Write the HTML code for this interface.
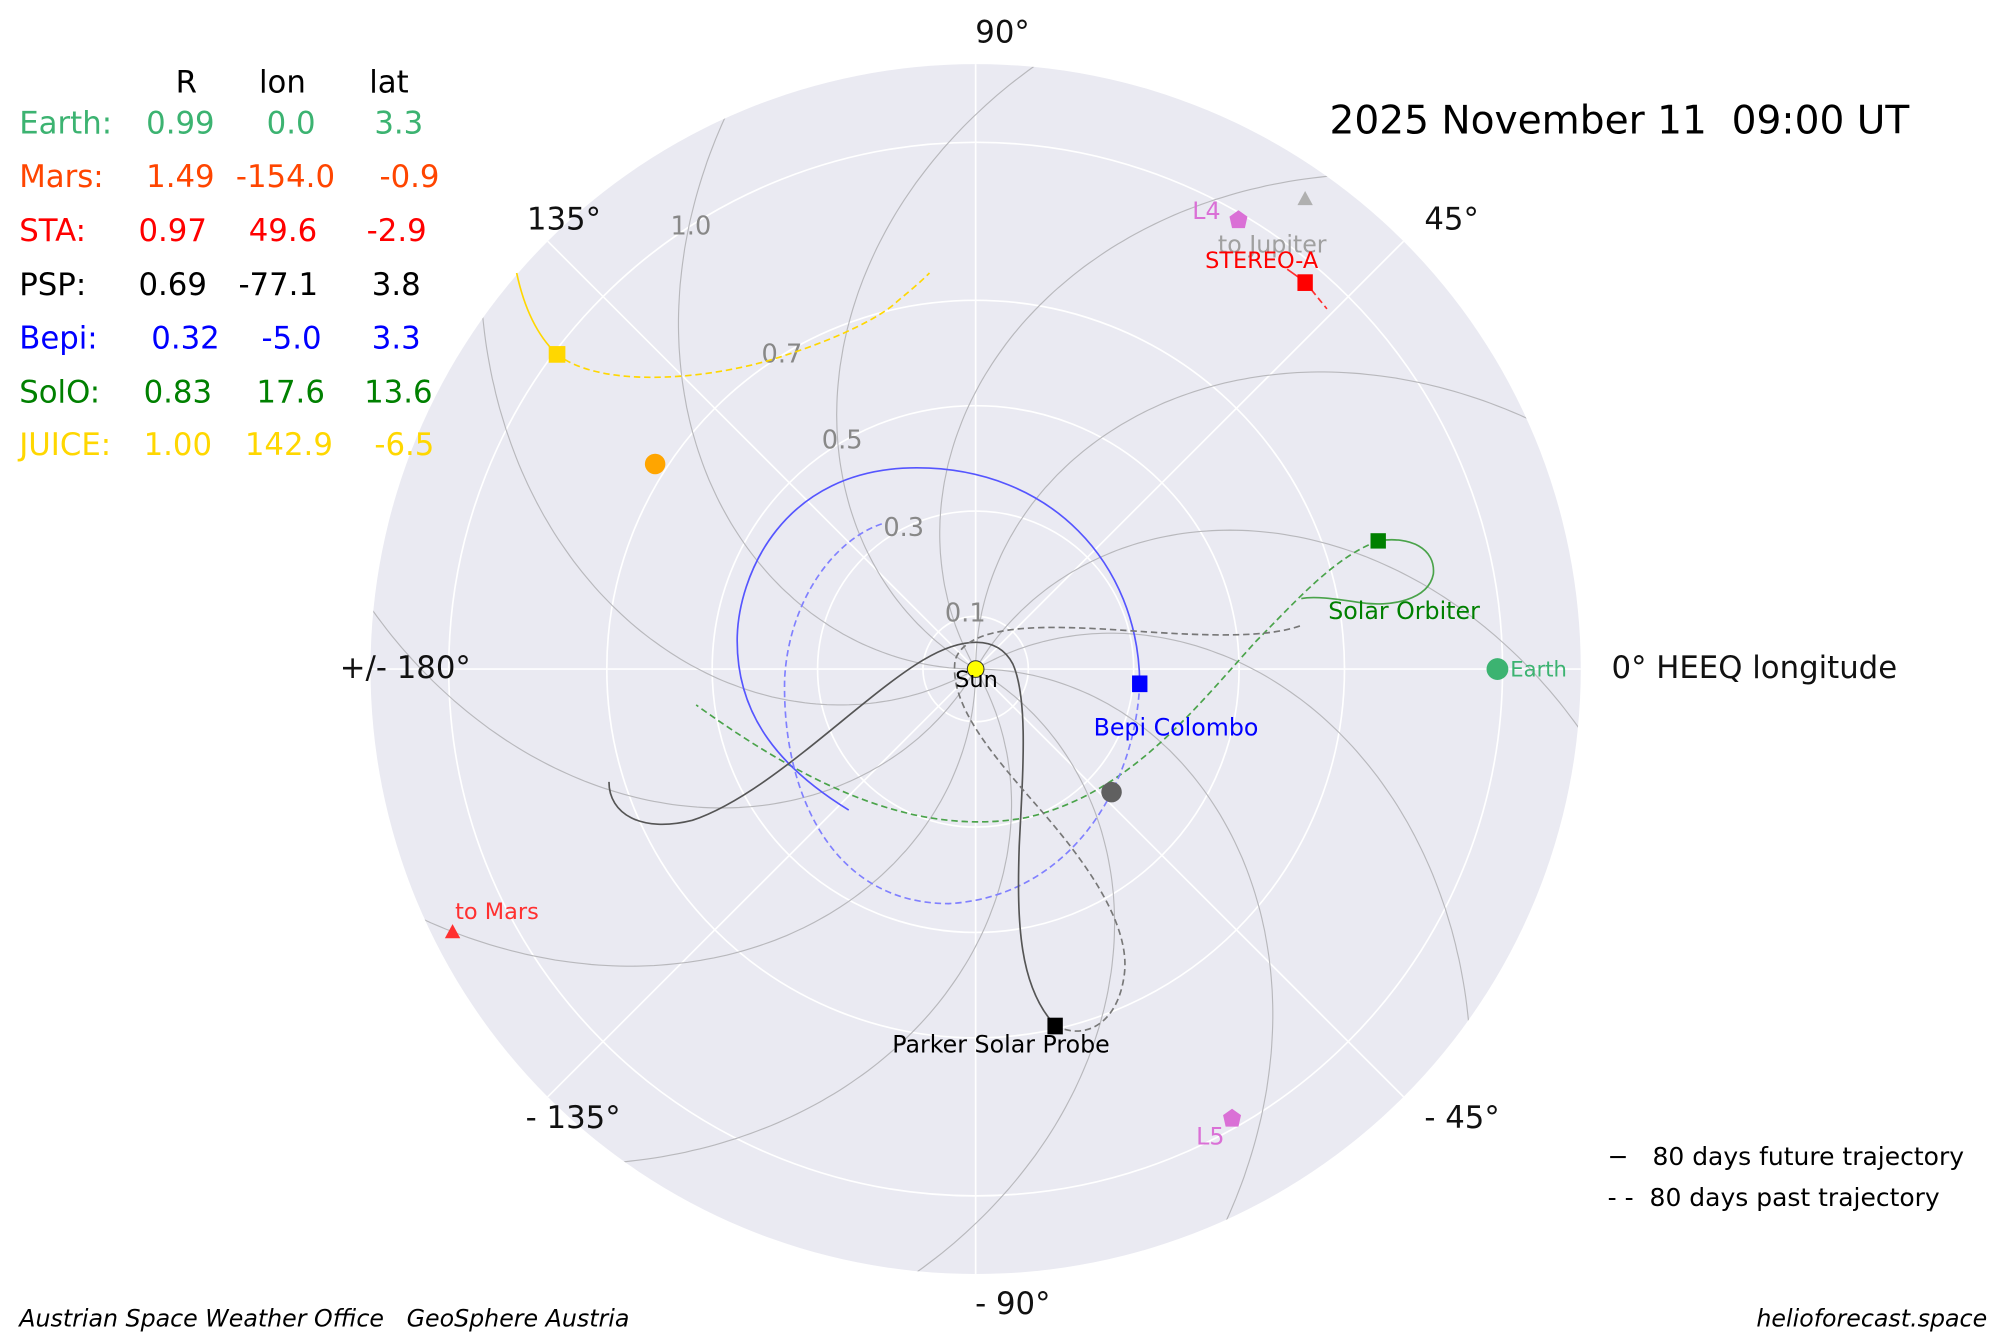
<!DOCTYPE html>
<html><head><meta charset="utf-8"><style>
html,body{margin:0;padding:0;background:#fff;}
svg{display:block;font-family:"DejaVu Sans","Liberation Sans",sans-serif;}
text{white-space:pre;}
</style></head><body>
<svg id="s" width="2000" height="1333" viewBox="0 0 1560 1040" preserveAspectRatio="none" xmlns="http://www.w3.org/2000/svg">
<defs><clipPath id="c"><circle cx="761" cy="522" r="472"/></clipPath></defs>
<circle cx="761" cy="522" r="472" fill="#eaeaf2"/>
<g id="grid" stroke="#fff" stroke-width="1.3" fill="none">
<circle cx="761" cy="522" r="41.1"/><circle cx="761" cy="522" r="123.3"/><circle cx="761" cy="522" r="205.5"/><circle cx="761" cy="522" r="287.7"/><circle cx="761" cy="522" r="411"/>
</g>
<g id="spir" clip-path="url(#c)" stroke="#b8b8bc" stroke-width="0.9" fill="none"></g>
<g font-size="20" fill="#888">
<text x="737" y="485">0.1</text><text x="689" y="418">0.3</text><text x="641" y="350">0.5</text><text x="594" y="283">0.7</text><text x="523" y="183">1.0</text>
</g>
<g fill="none" stroke-width="1.3">
<path d="M403,213 Q412,255 434,276" stroke="#ffd700"/>
<path d="M434,276 C470,305 560,295 610,278 C660,262 690,245 700,235 C712,225 718,220 725,213" stroke="#ffd700" stroke-dasharray="5,3"/>
<path d="M1004,210 L1018,220" stroke="#ff3030"/>
<path d="M1018,220 L1035,241" stroke="#ff3030" stroke-dasharray="5,3"/>
<path d="M1075,422 C1100,418 1120,428 1118,448 C1114,468 1085,474 1060,470 C1040,467 1025,465 1015,467" stroke="#4aa34a"/>
<path d="M1075,422 C1040,435 1010,470 980,500 C930,555 880,620 800,638 C720,652 640,620 543,550" stroke="#4aa34a" stroke-dasharray="5,3"/>
<path d="M889,533 C888,440 820,365 715,365 C610,365 575,450 575,500 C575,560 610,600 662,632" stroke="#5555ff"/>
<path d="M889,533 C885,620 830,700 740,705 C650,705 610,620 612,530 C615,470 650,420 690,408" stroke="#8080ff" stroke-dasharray="5,3"/>
<path d="M823,800 C795,770 793,720 795,660 C798,600 802,545 790,518 C778,495 750,497 720,515 C670,545 600,620 540,640 C500,650 475,635 475,610" stroke="#555"/>
<path d="M823,800 C845,812 872,800 877,760 C882,720 845,670 810,630 C775,590 740,550 745,515 C755,485 820,488 880,492 C950,497 990,497 1015,488" stroke="#777" stroke-dasharray="5,3"/>
</g>
<circle cx="761" cy="522" r="6.5" fill="#ffff00" stroke="#333" stroke-width="0.8"/>
<circle cx="1168" cy="522" r="8.5" fill="#3cb371"/>
<circle cx="511" cy="362" r="8" fill="#ffa500"/>
<circle cx="867" cy="618" r="8" fill="#606060"/>
<rect x="428" y="270" width="13" height="13" fill="#ffd700"/>
<rect x="1012" y="214" width="12" height="13" fill="#ff0000"/>
<rect x="1069" y="416" width="12" height="12" fill="#008000"/>
<rect x="883" y="527" width="12" height="13" fill="#0000ff"/>
<rect x="817" y="794" width="12" height="13" fill="#000"/>
<polygon points="966,164 973,169 971,178 961,178 959,169" fill="#da70d6"/>
<polygon points="961,865 968,870 966,879 956,879 954,870" fill="#da70d6"/>
<polygon points="1018,149 1024,160 1012,160" fill="#b0b0b0"/>
<polygon points="353,721 359,732 347,732" fill="#ff3030"/>
<g font-size="17.5">
<text x="745" y="536" fill="#000">Sun</text>
<text x="1178" y="528" fill="#3cb371" font-size="16.5">Earth</text>
<text x="930" y="171" fill="#da70d6" font-size="18.5">L4</text>
<text x="933" y="893" fill="#da70d6" font-size="18.5">L5</text>
<text x="950" y="197" fill="#a0a0a0" font-size="18.5">to Jupiter</text>
<text x="940" y="209" fill="#ff0000">STEREO-A</text>
<text x="355" y="717" fill="#ff3030">to Mars</text>
<text x="1036" y="483" fill="#008000" font-size="18.5">Solar Orbiter</text>
<text x="853" y="574" fill="#0000ff" font-size="18.5">Bepi Colombo</text>
<text x="696" y="821" fill="#000" font-size="18.5">Parker Solar Probe</text>
</g>
<g font-size="24" fill="#111">
<text x="782" y="33" text-anchor="middle">90°</text>
<text x="1111" y="179">45°</text>
<text x="1257" y="529">0° HEEQ longitude</text>
<text x="1111" y="880">- 45°</text>
<text x="790" y="1025" text-anchor="middle">- 90°</text>
<text x="410" y="880">- 135°</text>
<text x="265" y="529">+/- 180°</text>
<text x="411" y="179">135°</text>
</g>
<text x="1037" y="104" font-size="30.5" fill="#000">2025 November 11  09:00 UT</text>
<g font-size="24">
<text x="137" y="72" fill="#000">R</text><text x="202" y="72" fill="#000">lon</text><text x="288" y="72" fill="#000">lat</text>
<g fill="#3cb371"><text x="15" y="104">Earth:</text><text x="114" y="104">0.99</text><text x="208" y="104">0.0</text><text x="292" y="104">3.3</text></g>
<g fill="#ff4500"><text x="15" y="146">Mars:</text><text x="114" y="146">1.49</text><text x="184" y="146">-154.0</text><text x="296" y="146">-0.9</text></g>
<g fill="#ff0000"><text x="15" y="188">STA:</text><text x="108" y="188">0.97</text><text x="194" y="188">49.6</text><text x="286" y="188">-2.9</text></g>
<g fill="#000"><text x="15" y="230">PSP:</text><text x="108" y="230">0.69</text><text x="186" y="230">-77.1</text><text x="290" y="230">3.8</text></g>
<g fill="#0000ff"><text x="15" y="272">Bepi:</text><text x="118" y="272">0.32</text><text x="204" y="272">-5.0</text><text x="290" y="272">3.3</text></g>
<g fill="#008000"><text x="15" y="314">SolO:</text><text x="112" y="314">0.83</text><text x="200" y="314">17.6</text><text x="284" y="314">13.6</text></g>
<g fill="#ffd700"><text x="15" y="355">JUICE:</text><text x="112" y="355">1.00</text><text x="191" y="355">142.9</text><text x="292" y="355">-6.5</text></g>
</g>
<g font-size="19.5" fill="#000">
<text x="1254" y="909">−   80 days future trajectory</text>
<text x="1254" y="941">- -  80 days past trajectory</text>
</g>
<g font-size="18.5" font-style="italic" fill="#000">
<text x="15" y="1035">Austrian Space Weather Office   GeoSphere Austria</text>
<text x="1550" y="1035" text-anchor="end">helioforecast.space</text>
</g>
</svg>
<script>
(function(){
var cx=761,cy=522,k=411,g=document.getElementById('grid'),sp=document.getElementById('spir'),ns='http://www.w3.org/2000/svg';
for(var a=0;a<360;a+=45){var t=a*Math.PI/180;var l=document.createElementNS(ns,'line');
l.setAttribute('x1',cx);l.setAttribute('y1',cy);l.setAttribute('x2',cx+472*Math.cos(t));l.setAttribute('y2',cy-472*Math.sin(t));g.appendChild(l);}
for(var p=0;p<360;p+=30){var d='';for(var i=0;i<=120;i++){var r=i*1.2/120;var t=(p*Math.PI/180)-0.995*r;
d+=(i?'L':'M')+(cx+k*r*Math.cos(t)).toFixed(1)+','+(cy-k*r*Math.sin(t)).toFixed(1);}
var e=document.createElementNS(ns,'path');e.setAttribute('d',d);sp.appendChild(e);}
})();
</script>
</body></html>
